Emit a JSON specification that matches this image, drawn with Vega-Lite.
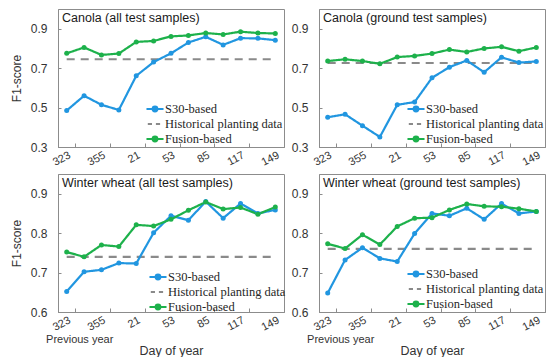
{
  "$schema": "https://vega.github.io/schema/vega-lite/v6.json",
  "padding": {"left": 9, "top": 8, "right": 0, "bottom": 0},
  "bounds": "flush",
  "columns": 2,
  "spacing": {"row": 27, "column": 35},
  "datasets": {
    "d": [
      {"panel":"CA","series":"Historical planting data","doy":"323","f1":0.745},
      {"panel":"CA","series":"Historical planting data","doy":"149","f1":0.745},
      {"panel":"CA","series":"S30-based","doy":"323","f1":0.485},
      {"panel":"CA","series":"S30-based","doy":"339","f1":0.56},
      {"panel":"CA","series":"S30-based","doy":"355","f1":0.514},
      {"panel":"CA","series":"S30-based","doy":"5","f1":0.488},
      {"panel":"CA","series":"S30-based","doy":"21","f1":0.661},
      {"panel":"CA","series":"S30-based","doy":"37","f1":0.731},
      {"panel":"CA","series":"S30-based","doy":"53","f1":0.775},
      {"panel":"CA","series":"S30-based","doy":"69","f1":0.83},
      {"panel":"CA","series":"S30-based","doy":"85","f1":0.859},
      {"panel":"CA","series":"S30-based","doy":"101","f1":0.818},
      {"panel":"CA","series":"S30-based","doy":"117","f1":0.852},
      {"panel":"CA","series":"S30-based","doy":"133","f1":0.851},
      {"panel":"CA","series":"S30-based","doy":"149","f1":0.842},
      {"panel":"CA","series":"Fusion-based","doy":"323","f1":0.775},
      {"panel":"CA","series":"Fusion-based","doy":"339","f1":0.805},
      {"panel":"CA","series":"Fusion-based","doy":"355","f1":0.767},
      {"panel":"CA","series":"Fusion-based","doy":"5","f1":0.774},
      {"panel":"CA","series":"Fusion-based","doy":"21","f1":0.833},
      {"panel":"CA","series":"Fusion-based","doy":"37","f1":0.838},
      {"panel":"CA","series":"Fusion-based","doy":"53","f1":0.861},
      {"panel":"CA","series":"Fusion-based","doy":"69","f1":0.866},
      {"panel":"CA","series":"Fusion-based","doy":"85","f1":0.878},
      {"panel":"CA","series":"Fusion-based","doy":"101","f1":0.871},
      {"panel":"CA","series":"Fusion-based","doy":"117","f1":0.885},
      {"panel":"CA","series":"Fusion-based","doy":"133","f1":0.878},
      {"panel":"CA","series":"Fusion-based","doy":"149","f1":0.876},

      {"panel":"CG","series":"Historical planting data","doy":"323","f1":0.726},
      {"panel":"CG","series":"Historical planting data","doy":"149","f1":0.726},
      {"panel":"CG","series":"S30-based","doy":"323","f1":0.451},
      {"panel":"CG","series":"S30-based","doy":"339","f1":0.466},
      {"panel":"CG","series":"S30-based","doy":"355","f1":0.408},
      {"panel":"CG","series":"S30-based","doy":"5","f1":0.351},
      {"panel":"CG","series":"S30-based","doy":"21","f1":0.514},
      {"panel":"CG","series":"S30-based","doy":"37","f1":0.528},
      {"panel":"CG","series":"S30-based","doy":"53","f1":0.651},
      {"panel":"CG","series":"S30-based","doy":"69","f1":0.705},
      {"panel":"CG","series":"S30-based","doy":"85","f1":0.739},
      {"panel":"CG","series":"S30-based","doy":"101","f1":0.679},
      {"panel":"CG","series":"S30-based","doy":"117","f1":0.755},
      {"panel":"CG","series":"S30-based","doy":"133","f1":0.728},
      {"panel":"CG","series":"S30-based","doy":"149","f1":0.734},
      {"panel":"CG","series":"Fusion-based","doy":"323","f1":0.736},
      {"panel":"CG","series":"Fusion-based","doy":"339","f1":0.745},
      {"panel":"CG","series":"Fusion-based","doy":"355","f1":0.736},
      {"panel":"CG","series":"Fusion-based","doy":"5","f1":0.722},
      {"panel":"CG","series":"Fusion-based","doy":"21","f1":0.756},
      {"panel":"CG","series":"Fusion-based","doy":"37","f1":0.762},
      {"panel":"CG","series":"Fusion-based","doy":"53","f1":0.774},
      {"panel":"CG","series":"Fusion-based","doy":"69","f1":0.794},
      {"panel":"CG","series":"Fusion-based","doy":"85","f1":0.782},
      {"panel":"CG","series":"Fusion-based","doy":"101","f1":0.8},
      {"panel":"CG","series":"Fusion-based","doy":"117","f1":0.808},
      {"panel":"CG","series":"Fusion-based","doy":"133","f1":0.786},
      {"panel":"CG","series":"Fusion-based","doy":"149","f1":0.805},

      {"panel":"WA","series":"Historical planting data","doy":"323","f1":0.74},
      {"panel":"WA","series":"Historical planting data","doy":"149","f1":0.74},
      {"panel":"WA","series":"S30-based","doy":"323","f1":0.652},
      {"panel":"WA","series":"S30-based","doy":"339","f1":0.702},
      {"panel":"WA","series":"S30-based","doy":"355","f1":0.707},
      {"panel":"WA","series":"S30-based","doy":"5","f1":0.724},
      {"panel":"WA","series":"S30-based","doy":"21","f1":0.723},
      {"panel":"WA","series":"S30-based","doy":"37","f1":0.801},
      {"panel":"WA","series":"S30-based","doy":"53","f1":0.844},
      {"panel":"WA","series":"S30-based","doy":"69","f1":0.833},
      {"panel":"WA","series":"S30-based","doy":"85","f1":0.88},
      {"panel":"WA","series":"S30-based","doy":"101","f1":0.838},
      {"panel":"WA","series":"S30-based","doy":"117","f1":0.875},
      {"panel":"WA","series":"S30-based","doy":"133","f1":0.85},
      {"panel":"WA","series":"S30-based","doy":"149","f1":0.859},
      {"panel":"WA","series":"Fusion-based","doy":"323","f1":0.752},
      {"panel":"WA","series":"Fusion-based","doy":"339","f1":0.74},
      {"panel":"WA","series":"Fusion-based","doy":"355","f1":0.77},
      {"panel":"WA","series":"Fusion-based","doy":"5","f1":0.766},
      {"panel":"WA","series":"Fusion-based","doy":"21","f1":0.821},
      {"panel":"WA","series":"Fusion-based","doy":"37","f1":0.818},
      {"panel":"WA","series":"Fusion-based","doy":"53","f1":0.835},
      {"panel":"WA","series":"Fusion-based","doy":"69","f1":0.858},
      {"panel":"WA","series":"Fusion-based","doy":"85","f1":0.879},
      {"panel":"WA","series":"Fusion-based","doy":"101","f1":0.861},
      {"panel":"WA","series":"Fusion-based","doy":"117","f1":0.865},
      {"panel":"WA","series":"Fusion-based","doy":"133","f1":0.848},
      {"panel":"WA","series":"Fusion-based","doy":"149","f1":0.866},

      {"panel":"WG","series":"Historical planting data","doy":"323","f1":0.76},
      {"panel":"WG","series":"Historical planting data","doy":"149","f1":0.76},
      {"panel":"WG","series":"S30-based","doy":"323","f1":0.648},
      {"panel":"WG","series":"S30-based","doy":"339","f1":0.732},
      {"panel":"WG","series":"S30-based","doy":"355","f1":0.763},
      {"panel":"WG","series":"S30-based","doy":"5","f1":0.736},
      {"panel":"WG","series":"S30-based","doy":"21","f1":0.728},
      {"panel":"WG","series":"S30-based","doy":"37","f1":0.799},
      {"panel":"WG","series":"S30-based","doy":"53","f1":0.85},
      {"panel":"WG","series":"S30-based","doy":"69","f1":0.844},
      {"panel":"WG","series":"S30-based","doy":"85","f1":0.863},
      {"panel":"WG","series":"S30-based","doy":"101","f1":0.835},
      {"panel":"WG","series":"S30-based","doy":"117","f1":0.875},
      {"panel":"WG","series":"S30-based","doy":"133","f1":0.85},
      {"panel":"WG","series":"S30-based","doy":"149","f1":0.855},
      {"panel":"WG","series":"Fusion-based","doy":"323","f1":0.773},
      {"panel":"WG","series":"Fusion-based","doy":"339","f1":0.761},
      {"panel":"WG","series":"Fusion-based","doy":"355","f1":0.796},
      {"panel":"WG","series":"Fusion-based","doy":"5","f1":0.771},
      {"panel":"WG","series":"Fusion-based","doy":"21","f1":0.817},
      {"panel":"WG","series":"Fusion-based","doy":"37","f1":0.838},
      {"panel":"WG","series":"Fusion-based","doy":"53","f1":0.839},
      {"panel":"WG","series":"Fusion-based","doy":"69","f1":0.859},
      {"panel":"WG","series":"Fusion-based","doy":"85","f1":0.874},
      {"panel":"WG","series":"Fusion-based","doy":"101","f1":0.868},
      {"panel":"WG","series":"Fusion-based","doy":"117","f1":0.867},
      {"panel":"WG","series":"Fusion-based","doy":"133","f1":0.862},
      {"panel":"WG","series":"Fusion-based","doy":"149","f1":0.855}
    ]
  },
  "config": {
    "view": {"stroke": "#8c8c8c", "strokeWidth": 1},
    "axis": {"grid": false, "domainColor": "#8c8c8c", "tickColor": "#8c8c8c", "labelColor": "#333333", "titleColor": "#333333", "labelFont": "Liberation Sans", "titleFont": "Liberation Sans", "titleFontWeight": "normal"},
    "title": {"font": "Liberation Sans", "fontSize": 12.5, "fontWeight": "normal", "color": "#1a1a1a", "anchor": "start", "frame": "group", "offset": 0, "dy": 19, "dx": 4, "baseline": "alphabetic"},
    "legend": {"orient": "bottom-right", "title": null, "padding": 0, "symbolSize": 144, "symbolStrokeWidth": 2, "labelFont": "Liberation Serif", "labelFontSize": 12.5, "labelColor": "#262626", "labelOffset": 3, "rowPadding": 1, "labelLimit": 300}
  },
  "resolve": {"scale": {"color": "independent"}, "legend": {"color": "independent"}},
  "concat": [
    {
      "width": 226, "height": 138,
      "title": {"text": "Canola (all test samples)"},
      "data": {"name": "d"},
      "transform": [{"filter": "datum.panel === 'CA'"}],
      "encoding": {
        "x": {"field": "doy", "type": "ordinal", "scale": {"type": "band", "paddingInner": 0, "paddingOuter": 0, "domain": ["323","339","355","5","21","37","53","69","85","101","117","133","149"]}, "axis": {"values": ["323","355","21","53","85","117","149"], "tickBand": "extent", "tickSize": -4, "labelAngle": -28, "labelPadding": 6, "labelFontSize": 11, "title": null}},
        "y": {"field": "f1", "type": "quantitative", "scale": {"domain": [0.3, 1.0]}, "axis": {"values": [0.3,0.5,0.7,0.9], "format": ".1f", "tickSize": -3, "labelPadding": 14, "labelFontSize": 12, "title": "F1-score", "titleFontSize": 12, "titlePadding": 7}},
        "color": {"field": "series", "type": "nominal", "scale": {"domain": ["S30-based","Historical planting data","Fusion-based"], "range": ["#2196e0","#8a8a8a","#1db14b"]},
          "legend": {"offset": 1.5, "encode": {"symbols": {"update": {"shape": {"signal": "datum.value === 'Historical planting data' ? 'M-1.2,0H-0.5M0.15,0H0.85' : 'M-1.42,0H1.42M0.4,0A0.4,0.4 0 1,1 -0.4,0A0.4,0.4 0 1,1 0.4,0Z'"}, "fill": {"signal": "datum.value === 'S30-based' ? '#2196e0' : datum.value === 'Fusion-based' ? '#1db14b' : 'transparent'"}, "strokeDash": {"value": []}}}}}}
      },
      "layer": [
        {
          "mark": {"type": "line", "strokeWidth": 2.2},
          "encoding": {
            "strokeDash": {"condition": {"test": "datum.series === 'Historical planting data'", "value": [8, 6]}, "value": [1, 0]},
            "strokeWidth": {"condition": {"test": "datum.series === 'Historical planting data'", "value": 2.8}, "value": 2.2}
          }
        },
        {
          "transform": [{"filter": "datum.series !== 'Historical planting data'"}],
          "mark": {"type": "point", "filled": true, "size": 25, "opacity": 1}
        }
      ]
    },
    {
      "width": 226, "height": 138,
      "title": {"text": "Canola (ground test samples)"},
      "data": {"name": "d"},
      "transform": [{"filter": "datum.panel === 'CG'"}],
      "encoding": {
        "x": {"field": "doy", "type": "ordinal", "scale": {"type": "band", "paddingInner": 0, "paddingOuter": 0, "domain": ["323","339","355","5","21","37","53","69","85","101","117","133","149"]}, "axis": {"values": ["323","355","21","53","85","117","149"], "tickBand": "extent", "tickSize": -4, "labelAngle": -28, "labelPadding": 6, "labelFontSize": 11, "title": null}},
        "y": {"field": "f1", "type": "quantitative", "scale": {"domain": [0.3, 1.0]}, "axis": {"values": [0.3,0.5,0.7,0.9], "format": ".1f", "tickSize": -3, "labelPadding": 14, "labelFontSize": 12, "title": null}},
        "color": {"field": "series", "type": "nominal", "scale": {"domain": ["S30-based","Historical planting data","Fusion-based"], "range": ["#2196e0","#8a8a8a","#1db14b"]},
          "legend": {"offset": 1.5, "encode": {"symbols": {"update": {"shape": {"signal": "datum.value === 'Historical planting data' ? 'M-1.2,0H-0.5M0.15,0H0.85' : 'M-1.42,0H1.42M0.4,0A0.4,0.4 0 1,1 -0.4,0A0.4,0.4 0 1,1 0.4,0Z'"}, "fill": {"signal": "datum.value === 'S30-based' ? '#2196e0' : datum.value === 'Fusion-based' ? '#1db14b' : 'transparent'"}, "strokeDash": {"value": []}}}}}}
      },
      "layer": [
        {
          "mark": {"type": "line", "strokeWidth": 2.2},
          "encoding": {
            "strokeDash": {"condition": {"test": "datum.series === 'Historical planting data'", "value": [8, 6]}, "value": [1, 0]},
            "strokeWidth": {"condition": {"test": "datum.series === 'Historical planting data'", "value": 2.8}, "value": 2.2}
          }
        },
        {
          "transform": [{"filter": "datum.series !== 'Historical planting data'"}],
          "mark": {"type": "point", "filled": true, "size": 25, "opacity": 1}
        }
      ]
    },
    {
      "width": 226, "height": 138,
      "title": {"text": "Winter wheat (all test samples)"},
      "data": {"name": "d"},
      "transform": [{"filter": "datum.panel === 'WA'"}],
      "resolve": {"axis": {"x": "independent"}},
      "encoding": {
        "x": {"field": "doy", "type": "ordinal", "scale": {"type": "band", "paddingInner": 0, "paddingOuter": 0, "domain": ["323","339","355","5","21","37","53","69","85","101","117","133","149"]}, "axis": {"orient": "bottom", "values": ["323","355","21","53","85","117","149"], "tickBand": "extent", "tickSize": -4, "labelAngle": -28, "labelPadding": 6, "labelFontSize": 11, "title": null}},
        "y": {"field": "f1", "type": "quantitative", "scale": {"domain": [0.6, 0.95]}, "axis": {"values": [0.6,0.7,0.8,0.9], "format": ".1f", "tickSize": -3, "labelPadding": 14, "labelFontSize": 12, "title": "F1-score", "titleFontSize": 12, "titlePadding": 7}},
        "color": {"field": "series", "type": "nominal", "scale": {"domain": ["S30-based","Historical planting data","Fusion-based"], "range": ["#2196e0","#8a8a8a","#1db14b"]},
          "legend": {"offset": -2, "encode": {"symbols": {"update": {"shape": {"signal": "datum.value === 'Historical planting data' ? 'M-1.2,0H-0.5M0.15,0H0.85' : 'M-1.42,0H1.42M0.4,0A0.4,0.4 0 1,1 -0.4,0A0.4,0.4 0 1,1 0.4,0Z'"}, "fill": {"signal": "datum.value === 'S30-based' ? '#2196e0' : datum.value === 'Fusion-based' ? '#1db14b' : 'transparent'"}, "strokeDash": {"value": []}}}}}}
      },
      "layer": [
        {
          "mark": {"type": "line", "strokeWidth": 2.2},
          "encoding": {
            "strokeDash": {"condition": {"test": "datum.series === 'Historical planting data'", "value": [8, 6]}, "value": [1, 0]},
            "strokeWidth": {"condition": {"test": "datum.series === 'Historical planting data'", "value": 2.8}, "value": 2.2}
          }
        },
        {
          "transform": [{"filter": "datum.series !== 'Historical planting data'"}],
          "mark": {"type": "point", "filled": true, "size": 25, "opacity": 1},
          "encoding": {
            "x": {"field": "doy", "type": "ordinal", "axis": {"orient": "bottom", "values": ["323"], "labelExpr": "'Previous year'", "labelAngle": 0, "labelAlign": "center", "labelBaseline": "top", "labelOffset": 13, "labelPadding": 21, "labelFontSize": 11, "ticks": false, "domain": false, "title": "Day of year", "titleFontSize": 12.5, "titlePadding": 0}}
          }
        }
      ]
    },
    {
      "width": 226, "height": 138,
      "title": {"text": "Winter wheat (ground test samples)"},
      "data": {"name": "d"},
      "transform": [{"filter": "datum.panel === 'WG'"}],
      "resolve": {"axis": {"x": "independent"}},
      "encoding": {
        "x": {"field": "doy", "type": "ordinal", "scale": {"type": "band", "paddingInner": 0, "paddingOuter": 0, "domain": ["323","339","355","5","21","37","53","69","85","101","117","133","149"]}, "axis": {"orient": "bottom", "values": ["323","355","21","53","85","117","149"], "tickBand": "extent", "tickSize": -4, "labelAngle": -28, "labelPadding": 6, "labelFontSize": 11, "title": null}},
        "y": {"field": "f1", "type": "quantitative", "scale": {"domain": [0.6, 0.95]}, "axis": {"values": [0.6,0.7,0.8,0.9], "format": ".1f", "tickSize": -3, "labelPadding": 14, "labelFontSize": 12, "title": null}},
        "color": {"field": "series", "type": "nominal", "scale": {"domain": ["S30-based","Historical planting data","Fusion-based"], "range": ["#2196e0","#8a8a8a","#1db14b"]},
          "legend": {"offset": 1.5, "encode": {"symbols": {"update": {"shape": {"signal": "datum.value === 'Historical planting data' ? 'M-1.2,0H-0.5M0.15,0H0.85' : 'M-1.42,0H1.42M0.4,0A0.4,0.4 0 1,1 -0.4,0A0.4,0.4 0 1,1 0.4,0Z'"}, "fill": {"signal": "datum.value === 'S30-based' ? '#2196e0' : datum.value === 'Fusion-based' ? '#1db14b' : 'transparent'"}, "strokeDash": {"value": []}}}}}}
      },
      "layer": [
        {
          "mark": {"type": "line", "strokeWidth": 2.2},
          "encoding": {
            "strokeDash": {"condition": {"test": "datum.series === 'Historical planting data'", "value": [8, 6]}, "value": [1, 0]},
            "strokeWidth": {"condition": {"test": "datum.series === 'Historical planting data'", "value": 2.8}, "value": 2.2}
          }
        },
        {
          "transform": [{"filter": "datum.series !== 'Historical planting data'"}],
          "mark": {"type": "point", "filled": true, "size": 25, "opacity": 1},
          "encoding": {
            "x": {"field": "doy", "type": "ordinal", "axis": {"orient": "bottom", "values": ["323"], "labelExpr": "'Previous year'", "labelAngle": 0, "labelAlign": "center", "labelBaseline": "top", "labelOffset": 13, "labelPadding": 21, "labelFontSize": 11, "ticks": false, "domain": false, "title": "Day of year", "titleFontSize": 12.5, "titlePadding": 0}}
          }
        }
      ]
    }
  ]
}
